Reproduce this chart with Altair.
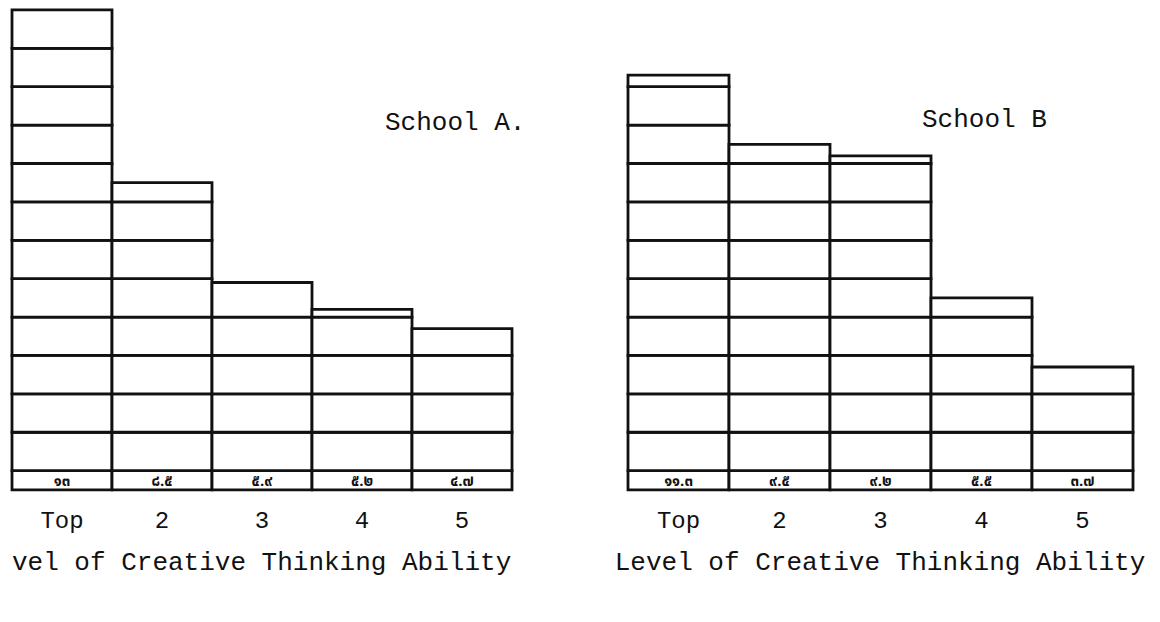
import altair as alt
import pandas as pd

levels = ["Top", "2", "3", "4", "5"]
values_a = [13.0, 8.5, 5.9, 5.2, 4.7]
values_b = [11.3, 9.5, 9.2, 5.5, 3.7]
labels_a = ["๑๓", "๘.๕", "๕.๙", "๕.๒", "๔.๗"]
labels_b = ["๑๑.๓", "๙.๕", "๙.๒", "๕.๕", "๓.๗"]
school_names = ["School A.", "School B"]
axis_title = "Level of Creative Thinking Ability"
label_row_base = 0.5

MONO = "Liberation Mono, Courier New, monospace"
THAI = "Noto Sans Thai, Loma, Garuda, Tlwg Typo, Noto Sans, DejaVu Sans, sans-serif"
INK = "#111111"

Y_SCALE = alt.Scale(domain=[-1.9, 13.05], nice=False, zero=False)
H = 574


def cell_table(values):
    rows = []
    for i, v in enumerate(values):
        edges = [label_row_base] + [k for k in range(1, int(v) + 1)]
        if v > edges[-1]:
            edges.append(v)
        for lo, hi in zip(edges[:-1], edges[1:]):
            rows.append({"i": i, "i2": i + 1, "lo": lo, "hi": hi})
    return pd.DataFrame(rows)


def panel(values, labels, school, width, x_max, school_x, school_y, title_x, clip_title):
    x_scale = alt.Scale(domain=[0, x_max], nice=False, zero=False)
    cells = cell_table(values)
    bars = alt.Chart(cells).mark_rect(
        fill="white", stroke=INK, strokeWidth=2.8
    ).encode(
        x=alt.X("i:Q", scale=x_scale, axis=None),
        x2="i2:Q",
        y=alt.Y("lo:Q", scale=Y_SCALE, axis=None),
        y2="hi:Q",
    )
    lab = pd.DataFrame({
        "mid": [i + 0.5 for i in range(len(values))],
        "lab": labels,
        "lev": levels,
        "base": [label_row_base] * len(values),
    })
    thai = alt.Chart(lab).mark_text(
        font=THAI, fontSize=15, fontWeight="bold", color=INK,
        baseline="middle", dy=-9
    ).encode(
        x=alt.X("mid:Q", scale=x_scale, axis=None),
        y=alt.Y("base:Q", scale=Y_SCALE, axis=None),
        text="lab:N",
    )
    ticks = alt.Chart(lab).mark_text(
        font=MONO, fontSize=24, color=INK, baseline="middle"
    ).encode(
        x=alt.X("mid:Q", scale=x_scale, axis=None),
        y=alt.value(513),
        text="lev:N",
    )
    title = alt.Chart(pd.DataFrame({"t": [axis_title]})).mark_text(
        font=MONO, fontSize=26, color=INK, baseline="middle", align="center",
        clip=clip_title,
    ).encode(x=alt.value(title_x), y=alt.value(554), text="t:N")
    sch = alt.Chart(pd.DataFrame({"s": [school]})).mark_text(
        font=MONO, fontSize=26, color=INK, baseline="alphabetic", align="left",
    ).encode(x=alt.value(school_x), y=alt.value(school_y), text="s:N")
    return alt.layer(bars, thai, ticks, title, sch).properties(width=width, height=H)


left = panel(values_a, labels_a, school_names[0], 530, 5.3, 373, 122, 234, True)
right = panel(values_b, labels_b, school_names[1], 505, 5.0, 294, 119, 252, False)

chart = alt.hconcat(left, right, spacing=86, bounds="flush").properties(
    padding={"left": 2, "top": 0, "right": 5, "bottom": 0},
    background="white",
).configure_view(stroke=None)

chart.save("out.html", embed_options={"renderer": "svg", "actions": False})
